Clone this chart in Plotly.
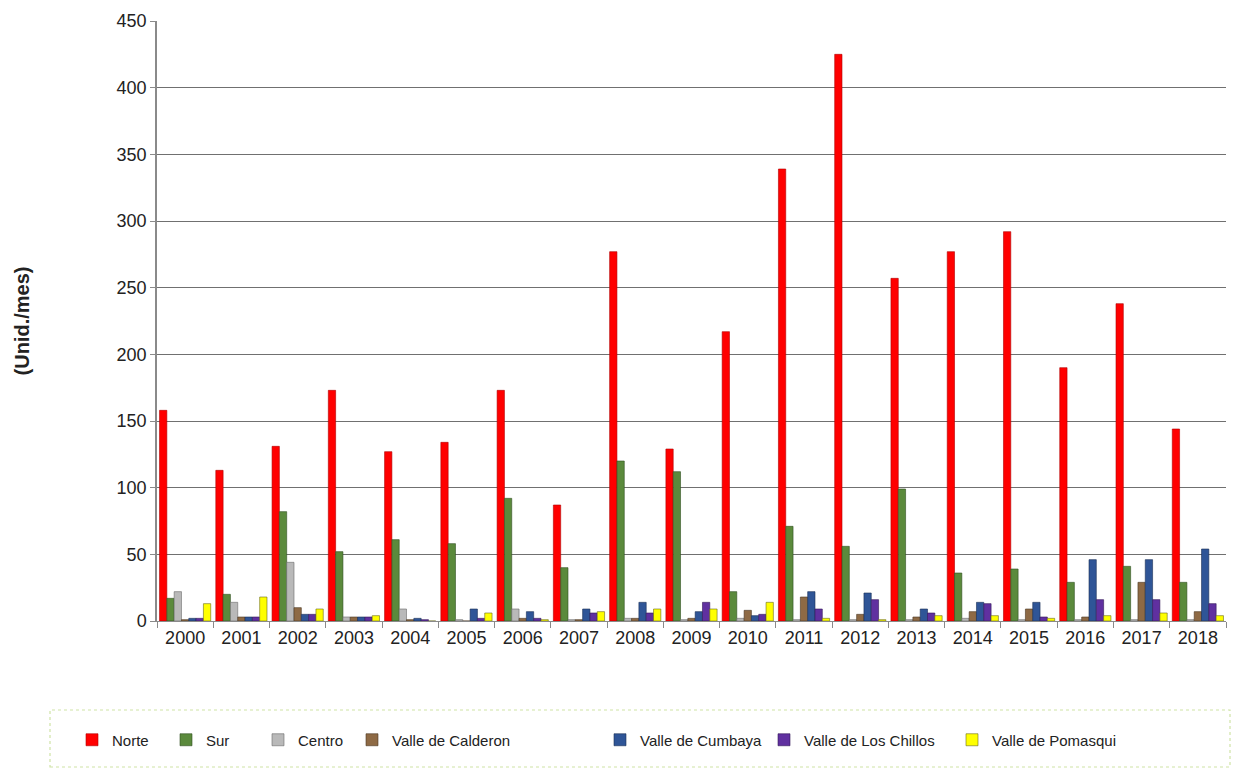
import plotly.graph_objects as go

# Años y unidades por mes para cada zona
years = [str(y) for y in range(2000, 2019)]

norte = [158, 113, 131, 173, 127, 134, 173, 87, 277, 129, 217, 339, 425, 257, 277, 292, 190, 238, 144]
sur = [17, 20, 82, 52, 61, 58, 92, 40, 120, 112, 22, 71, 56, 99, 36, 39, 29, 41, 29]
centro = [22, 14, 44, 3, 9, 1, 9, 1, 2, 1, 2, 1, 1, 1, 2, 1, 1, 1, 1]
calderon = [1, 3, 10, 3, 1, 0, 2, 1, 2, 2, 8, 18, 5, 3, 7, 9, 3, 29, 7]
cumbaya = [2, 3, 5, 3, 2, 9, 7, 9, 14, 7, 4, 22, 21, 9, 14, 14, 46, 46, 54]
chillos = [2, 3, 5, 3, 1, 2, 2, 6, 6, 14, 5, 9, 16, 6, 13, 3, 16, 16, 13]
pomasqui = [13, 18, 9, 4, 0, 6, 1, 7, 9, 9, 14, 2, 1, 4, 4, 2, 4, 6, 4]

series = [
    ("Norte", norte, "#ff0000", "#b00000"),
    ("Sur", sur, "#5b8a3c", "#2f4f20"),
    ("Centro", centro, "#b9b9b9", "#6a6a6a"),
    ("Valle de Calderon", calderon, "#8e6a45", "#4a3622"),
    ("Valle de Cumbaya", cumbaya, "#2f5597", "#1a2f55"),
    ("Valle de Los Chillos", chillos, "#6030a0", "#321858"),
    ("Valle de Pomasqui", pomasqui, "#ffff00", "#6a6a20"),
]

# Page geometry (pixels) of the plotting area
W, H = 1239, 768
L, R, T, B = 157, 13, 21, 147
pw, ph = W - L - R, H - T - B

def px_x(p):
    return (p - L) / pw

def px_y(p):
    return (H - B - p) / ph

FONT = "Liberation Sans Narrow, Arial Narrow, Liberation Sans, Arial, sans-serif"

# where each legend label starts along the bottom box
legend_text_x = [110, 204, 296, 390, 638, 802, 990]
legend_names = ["legend"] + [f"legend{i}" for i in range(2, 8)]

fig = go.Figure()
for (name, vals, col, edge), lg in zip(series, legend_names):
    fig.add_trace(go.Bar(
        x=years, y=vals, name=name, legend=lg, showlegend=True,
        marker=dict(color=col, line=dict(color=edge, width=0.6)),
    ))

layout_legends = {}
for lg, tx in zip(legend_names, legend_text_x):
    layout_legends[lg] = dict(
        x=px_x(tx - 38), y=px_y(740), xanchor="left", yanchor="middle",
        orientation="h", bgcolor="rgba(0,0,0,0)", borderwidth=0,
        font=dict(family=FONT, size=15, color="#222222"),
        itemwidth=30, visible=True,
    )

fig.update_layout(
    width=W, height=H,
    margin=dict(l=L, r=R, t=T, b=B),
    paper_bgcolor="white", plot_bgcolor="white",
    showlegend=True,
    barmode="group", bargap=0.09, bargroupgap=0,
    font=dict(family=FONT, color="#222222"),
    **layout_legends,
    xaxis=dict(
        type="category", showgrid=False,
        showline=True, linecolor="#8a8a8a", linewidth=1,
        ticks="outside", tickson="boundaries", ticklen=6, tickcolor="#8a8a8a",
        tickfont=dict(family=FONT, size=18, color="#222222"),
    ),
    yaxis=dict(
        range=[0, 450], dtick=50,
        showgrid=True, gridcolor="#707070", gridwidth=1,
        showline=True, linecolor="#8a8a8a", linewidth=1.5,
        ticks="outside", ticklen=5, tickcolor="#8a8a8a",
        tickfont=dict(family=FONT, size=18, color="#222222"),
        zeroline=False,
        title=dict(text="<b>(Unid./mes)</b>", standoff=82,
                   font=dict(family="Liberation Sans, Arial, sans-serif", size=20, color="#222222")),
    ),
    shapes=[dict(
        type="rect", xref="paper", yref="paper",
        x0=px_x(50), x1=px_x(1230), y0=px_y(767), y1=px_y(710),
        line=dict(color="#cfe3a6", width=1.2, dash="dot"),
        fillcolor="rgba(0,0,0,0)", layer="below",
    )],
)

fig.write_html("out.html")
